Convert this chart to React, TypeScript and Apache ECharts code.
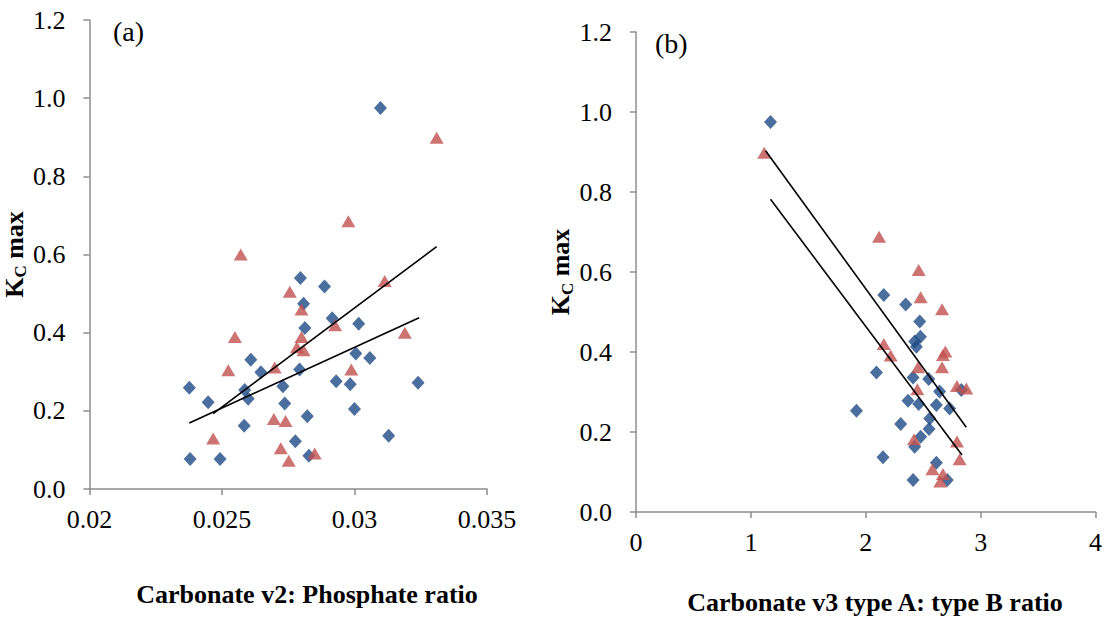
import React, { useEffect, useRef } from "react";
import * as echarts from "echarts";

const yTicks = [0, 0.2, 0.4, 0.6, 0.8, 1.0, 1.2];

// Panel (a): Carbonate v2 : Phosphate ratio
const aBlueX = [0.02377, 0.02448, 0.0238, 0.02493, 0.02584, 0.02586, 0.02599, 0.02609, 0.02647, 0.0273, 0.02737, 0.02777, 0.02793, 0.02813, 0.02808, 0.02796, 0.02887, 0.02822, 0.02828, 0.02916, 0.02931, 0.02984, 0.03016, 0.03005, 0.03, 0.03058, 0.03129, 0.0324, 0.03098];
const aBlueY = [0.259, 0.222, 0.077, 0.077, 0.162, 0.253, 0.231, 0.331, 0.299, 0.263, 0.219, 0.122, 0.306, 0.412, 0.474, 0.54, 0.518, 0.186, 0.085, 0.437, 0.276, 0.268, 0.423, 0.347, 0.205, 0.335, 0.136, 0.272, 0.975];
const aRedX = [0.02571, 0.02977, 0.0331, 0.03114, 0.02756, 0.028, 0.028, 0.02783, 0.02808, 0.02927, 0.0319, 0.02549, 0.02524, 0.02699, 0.02988, 0.02696, 0.0274, 0.02467, 0.02722, 0.02752, 0.0285];
const aRedY = [0.6, 0.685, 0.899, 0.532, 0.505, 0.459, 0.389, 0.363, 0.355, 0.419, 0.4, 0.389, 0.304, 0.311, 0.306, 0.179, 0.174, 0.129, 0.104, 0.072, 0.091];
const aRedTrendX = [0.02467, 0.0331];
const aRedTrendY = [0.193, 0.62];
const aBlueTrendX = [0.02377, 0.03244];
const aBlueTrendY = [0.169, 0.438];

// Panel (b): Carbonate v3 type A : type B ratio
const bBlueX = [1.171, 2.157, 2.348, 2.47, 2.476, 2.426, 2.441, 2.093, 2.412, 2.548, 2.643, 2.832, 2.368, 2.461, 2.615, 2.73, 1.919, 2.304, 2.557, 2.551, 2.478, 2.426, 2.15, 2.615, 2.412, 2.71];
const bBlueY = [0.975, 0.5425, 0.519, 0.476, 0.438, 0.426, 0.413, 0.349, 0.336, 0.3325, 0.301, 0.305, 0.278, 0.27, 0.2675, 0.259, 0.253, 0.22, 0.234, 0.2075, 0.188, 0.163, 0.137, 0.123, 0.08, 0.08];
const bRedX = [1.116, 2.116, 2.461, 2.478, 2.664, 2.157, 2.217, 2.693, 2.672, 2.455, 2.664, 2.449, 2.794, 2.875, 2.42, 2.794, 2.817, 2.58, 2.672, 2.649];
const bRedY = [0.898, 0.688, 0.605, 0.537, 0.507, 0.42, 0.391, 0.401, 0.3925, 0.362, 0.362, 0.307, 0.315, 0.309, 0.182, 0.176, 0.132, 0.107, 0.095, 0.076];
const bRedTrendX = [1.128, 2.875];
const bRedTrendY = [0.903, 0.212];
const bBlueTrendX = [1.171, 2.838];
const bBlueTrendY = [0.782, 0.1425];

const FONT = "Liberation Serif";
const AXIS_COLOR = "#8c8c8c";
const BLUE = "#1d4a85";
const RED = "#c0504d";

const zip = (xs: number[], ys: number[]) => xs.map((x, i) => [x, ys[i]]);

function yAxisCfg(gridIndex: number, nameGap: number) {
  return {
    type: "value",
    gridIndex,
    min: yTicks[0],
    max: yTicks[yTicks.length - 1],
    interval: 0.2,
    name: "{k|K}{s|C}{k| max}",
    nameLocation: "middle",
    nameRotate: 90,
    nameGap,
    nameTextStyle: {
      rich: {
        k: { fontFamily: FONT, fontWeight: "bold", fontSize: 26, color: "#000" },
        s: { fontFamily: FONT, fontWeight: "bold", fontSize: 17, color: "#000", padding: [13, 0, 0, 0] },
      },
    },
    axisLine: { show: true, lineStyle: { color: AXIS_COLOR, width: 1.5 } },
    axisTick: { show: true, length: 6, lineStyle: { color: AXIS_COLOR, width: 1.5 } },
    splitLine: { show: false },
    axisLabel: {
      fontFamily: FONT,
      fontSize: 26,
      color: "#000",
      margin: 24,
      formatter: (v: number) => v.toFixed(1),
    },
  };
}

function xAxisCfg(gridIndex: number, min: number, max: number, interval: number, fmt: (v: number) => string) {
  return {
    type: "value",
    gridIndex,
    min,
    max,
    interval,
    axisLine: { show: true, onZero: false, lineStyle: { color: AXIS_COLOR, width: 1.5 } },
    axisTick: { show: true, length: 6, lineStyle: { color: AXIS_COLOR, width: 1.5 } },
    splitLine: { show: false },
    axisLabel: {
      fontFamily: FONT,
      fontSize: 26,
      color: "#000",
      margin: 17,
      formatter: fmt,
    },
  };
}

function scatter(xi: number, data: number[][], symbol: string, size: number | number[], color: string) {
  return {
    type: "scatter",
    xAxisIndex: xi,
    yAxisIndex: xi,
    data,
    symbol,
    symbolSize: size,
    itemStyle: { color },
  };
}

function trend(xi: number, data: number[][]) {
  return {
    type: "line",
    xAxisIndex: xi,
    yAxisIndex: xi,
    data,
    showSymbol: false,
    symbol: "none",
    lineStyle: { color: "#000", width: 1.6 },
    z: 5,
  };
}

export default function App() {
  const ref = useRef<HTMLDivElement>(null);
  useEffect(() => {
    if (!ref.current) return;
    const chart = echarts.init(ref.current, null, { renderer: "svg" });
    chart.setOption({
      animation: false,
      backgroundColor: "#fff",
      grid: [
        { left: 88, top: 20, width: 399, height: 469 },
        { left: 636, top: 32, width: 460, height: 480 },
      ],
      xAxis: [
        xAxisCfg(0, 0.02, 0.035, 0.005, (v: number) => String(parseFloat(v.toFixed(3)))),
        xAxisCfg(1, 0, 4, 1, (v: number) => String(Math.round(v))),
      ],
      yAxis: [yAxisCfg(0, 51), yAxisCfg(1, 58)],
      graphic: [
        { type: "text", left: 113, top: 17, style: { text: "(a)", fontFamily: FONT, fontSize: 28, fill: "#000" } },
        { type: "text", left: 655, top: 29, style: { text: "(b)", fontFamily: FONT, fontSize: 28, fill: "#000" } },
        {
          type: "text",
          x: 307,
          y: 594,
          style: { text: "Carbonate v2: Phosphate ratio", fontFamily: FONT, fontWeight: "bold", fontSize: 26, fill: "#000", align: "center", verticalAlign: "middle" },
        },
        {
          type: "text",
          x: 875,
          y: 602,
          style: { text: "Carbonate v3 type A: type B ratio", fontFamily: FONT, fontWeight: "bold", fontSize: 26, fill: "#000", align: "center", verticalAlign: "middle" },
        },
      ],
      series: [
        scatter(0, zip(aBlueX, aBlueY), "diamond", [13, 14], BLUE),
        scatter(0, zip(aRedX, aRedY), "triangle", [14, 12], RED),
        trend(0, zip(aRedTrendX, aRedTrendY)),
        trend(0, zip(aBlueTrendX, aBlueTrendY)),
        scatter(1, zip(bBlueX, bBlueY), "diamond", [13, 14], BLUE),
        scatter(1, zip(bRedX, bRedY), "triangle", [14, 12], RED),
        trend(1, zip(bRedTrendX, bRedTrendY)),
        trend(1, zip(bBlueTrendX, bBlueTrendY)),
      ],
    });
    return () => chart.dispose();
  }, []);
  return <div ref={ref} style={{ position: "absolute", left: 0, top: 0, width: 1105, height: 619 }} />;
}
